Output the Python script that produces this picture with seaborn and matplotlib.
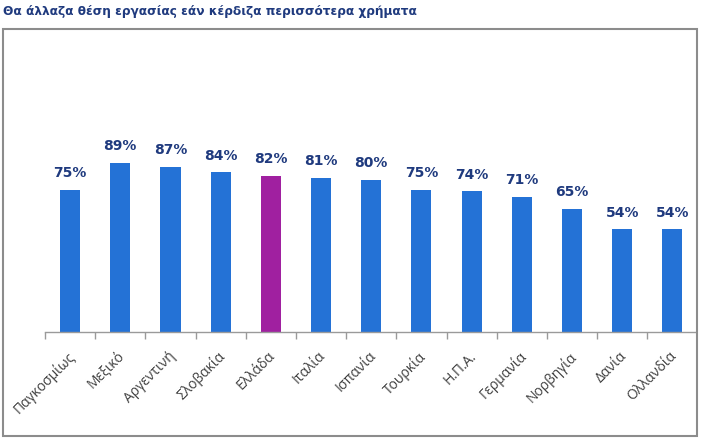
import matplotlib
matplotlib.use("Agg")
import matplotlib.pyplot as plt
import matplotlib.transforms as mtransforms
import seaborn as sns
import pandas as pd
from matplotlib.patches import Rectangle
from matplotlib.ticker import FixedLocator

categories = ["Παγκοσμίως", "Μεξικό", "Αργεντινή", "Σλοβακία", "Ελλάδα", "Ιταλία",
              "Ισπανία", "Τουρκία", "Η.Π.Α.", "Γερμανία", "Νορβηγία", "Δανία", "Ολλανδία"]
values = [75, 89, 87, 84, 82, 81, 80, 75, 74, 71, 65, 54, 54]
highlight = "Ελλάδα"
title = "Θα άλλαζα θέση εργασίας εάν κέρδιζα περισσότερα χρήματα"

blue = "#2472D6"
purple = "#A020A0"
navy = "#1F3A7E"

sns.set_theme(style="white")
plt.rcParams['font.family'] = ['DejaVu Sans']

df = pd.DataFrame({"cat": categories, "val": values})
palette = [purple if c == highlight else blue for c in categories]

fig = plt.figure(figsize=(7.01, 4.41), dpi=100)
ax = fig.add_axes([45/701, 1-332/441, 650/701, 302/441])

sns.barplot(data=df, x="cat", y="val", hue="cat", palette=palette, legend=False,
            width=0.4, ax=ax, saturation=1, edgecolor="none")

ax.set_ylim(0, 302/1.9)
ax.set_xlim(-0.5, 12.45)
for s in ["top", "right", "left"]:
    ax.spines[s].set_visible(False)
ax.spines["bottom"].set_color("#9a9a9a")
ax.spines["bottom"].set_linewidth(1.0)
ax.set_yticks([])
ax.set_xlabel("")
ax.set_ylabel("")

ax.xaxis.set_minor_locator(FixedLocator([i - 0.5 for i in range(len(categories))] + [len(categories) - 0.5]))
ax.tick_params(axis="x", which="minor", length=5, width=1, color="#9a9a9a", bottom=True)
ax.tick_params(axis="x", which="major", length=0, pad=12)
ax.set_xticks(range(len(categories)))
ax.set_xticklabels(categories, rotation=45, ha="right", rotation_mode="anchor",
                   fontsize=10, color="#404040", family="Open Sans")
shift = mtransforms.ScaledTranslation(-3/100, 0, fig.dpi_scale_trans)
for lbl in ax.get_xticklabels():
    lbl.set_transform(lbl.get_transform() + shift)

for i, v in enumerate(values):
    ax.annotate(f"{v}%", (i, v), xytext=(0, 7), textcoords="offset points",
                ha="center", va="bottom", fontsize=10, fontweight="bold", color=navy)

fig.text(3/701, 1-12/441, title, fontsize=8.7, fontweight="bold", color=navy,
         ha="left", va="center")

fig.patches.append(Rectangle((3/701, 1-436/441), 694/701, 407/441, transform=fig.transFigure,
                             fill=False, edgecolor="#8c8c8c", linewidth=1.5, zorder=0))

fig.savefig("out.png", dpi=100)
